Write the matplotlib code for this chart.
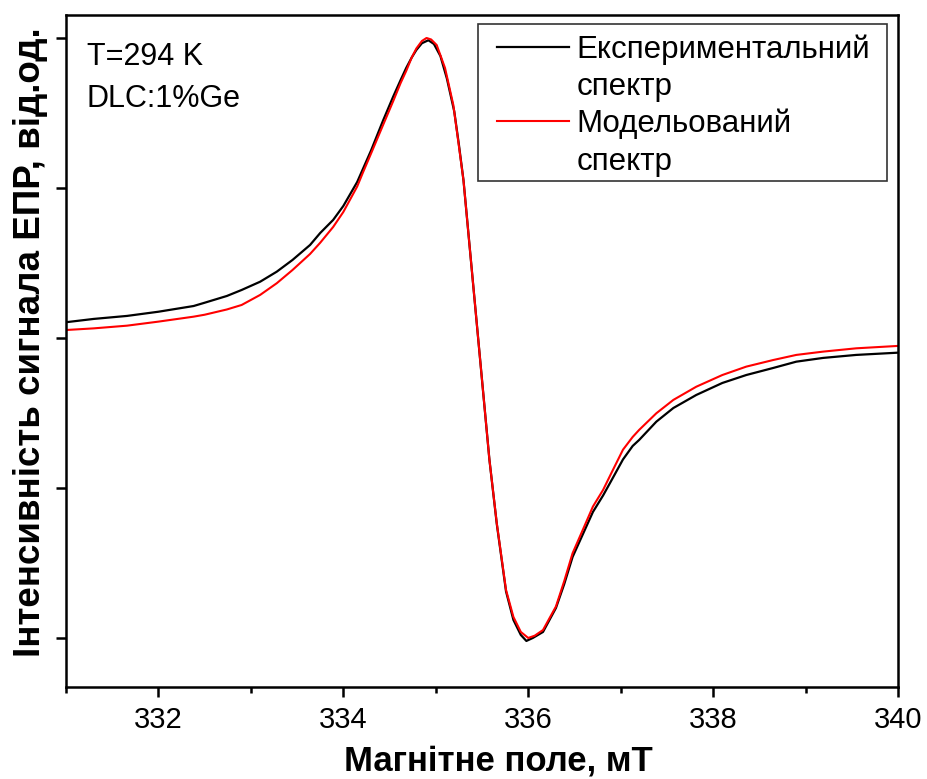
import matplotlib
matplotlib.use('Agg')
import matplotlib.pyplot as plt
from matplotlib.lines import Line2D
from matplotlib.patches import Rectangle

plt.rcParams['font.family'] = ['Liberation Sans', 'DejaVu Sans']

# field, mT and signal (arb. units)
field_exp = [331.0, 331.3, 331.66, 332.0, 332.38, 332.5, 332.74, 332.9, 333.1, 333.28,
             333.45, 333.64, 333.75, 333.89, 334.0, 334.15, 334.3, 334.43, 334.54, 334.62,
             334.68, 334.74, 334.79, 334.85, 334.92, 334.98, 335.05, 335.12, 335.2, 335.25,
             335.3, 335.44, 335.58, 335.66, 335.76, 335.84, 335.92, 335.98, 336.05, 336.16,
             336.3, 336.39, 336.48, 336.59, 336.7, 336.81, 336.9, 337.025, 337.13, 337.2,
             337.386, 337.57, 337.818, 338.1, 338.359, 338.65, 338.9, 339.19, 339.548, 340.0]
signal_exp = [0.105, 0.127, 0.147, 0.175, 0.213, 0.235, 0.28, 0.32, 0.375, 0.442,
              0.52, 0.62, 0.70, 0.787, 0.88, 1.04, 1.25, 1.45, 1.61, 1.72,
              1.80, 1.87, 1.92, 1.965, 1.985, 1.96, 1.88, 1.73, 1.51, 1.29,
              1.05, 0.12, -0.81, -1.24, -1.69, -1.88, -1.98, -2.02, -2.0, -1.96,
              -1.80, -1.64, -1.46, -1.31, -1.16, -1.05, -0.95, -0.81, -0.72, -0.68,
              -0.558, -0.467, -0.38, -0.30, -0.247, -0.20, -0.158, -0.133, -0.113, -0.098]

field_sim = [331.0, 331.3, 331.66, 332.0, 332.38, 332.5, 332.74, 332.9, 333.1, 333.28,
             333.45, 333.64, 333.75, 333.89, 334.0, 334.15, 334.21, 334.3, 334.43, 334.54,
             334.62, 334.68, 334.74, 334.79, 334.85, 334.9, 334.95, 335.01, 335.1, 335.19,
             335.25, 335.3, 335.44, 335.58, 335.66, 335.76, 335.84, 335.92, 336.0, 336.07,
             336.16, 336.3, 336.39, 336.48, 336.59, 336.7, 336.81, 336.9, 337.025, 337.13,
             337.2, 337.386, 337.57, 337.818, 338.1, 338.359, 338.65, 338.9, 339.19, 339.548,
             340.0]
signal_sim = [0.053, 0.064, 0.082, 0.109, 0.142, 0.155, 0.19, 0.22, 0.287, 0.365,
              0.453, 0.56, 0.635, 0.74, 0.84, 1.01, 1.10, 1.23, 1.42, 1.58,
              1.70, 1.78, 1.87, 1.93, 1.98, 2.0, 1.99, 1.953, 1.80, 1.553,
              1.28, 1.05, 0.12, -0.81, -1.235, -1.68, -1.86, -1.96, -2.0, -1.985,
              -1.947, -1.79, -1.62, -1.435, -1.28, -1.124, -1.013, -0.90, -0.745, -0.66,
              -0.613, -0.502, -0.413, -0.325, -0.247, -0.191, -0.147, -0.113, -0.091, -0.069,
              -0.053]

fig = plt.figure(figsize=(9.27, 7.79), dpi=100)
ax = fig.add_axes([0.0712, 0.1181, 0.8975, 0.8626])

ax.plot(field_exp, signal_exp, color='black', lw=1.6)
ax.plot(field_sim, signal_sim, color='#ff0000', lw=1.5)

ax.set_xlim(331, 340)
ax.set_ylim(-2.327, 2.153)
ax.set_xticks([332, 334, 336, 338, 340])
ax.set_xticks([331, 333, 335, 337, 339], minor=True)
ax.set_yticks([-2, -1, 0, 1, 2])
ax.set_yticklabels([])
for s in ax.spines.values():
    s.set_linewidth(1.8)
ax.tick_params(which='major', direction='out', length=7, width=1.8, labelsize=21, pad=7)
ax.tick_params(which='minor', direction='out', length=4, width=1.8)

ax.set_xlabel('Магнітне поле, мТ', fontsize=25, fontweight='bold')
ax.xaxis.set_label_coords(0.52, -0.086)
ax.set_ylabel('Інтенсивність сигнала ЕПР, від.од.', fontsize=26.5, fontweight='bold')
ax.yaxis.set_label_coords(-0.022, 0.513)

ax.text(0.025, 0.926, 'T=294 K', transform=ax.transAxes, fontsize=22)
ax.text(0.025, 0.863, 'DLC:1%Ge', transform=ax.transAxes, fontsize=22)

# each legend label is split into two rows so that the line sits next to the first row
handles = [Line2D([], [], color='black', lw=1.6), Line2D([], [], color='none'),
           Line2D([], [], color='#ff0000', lw=1.5), Line2D([], [], color='none')]
labels = ['Експериментальний', 'спектр', 'Модельований', 'спектр']
ax.legend(handles, labels, loc='upper left', bbox_to_anchor=(0.518, 0.9717),
          fontsize=22.5, frameon=False, borderaxespad=0, borderpad=0,
          handlelength=2.3, handletextpad=0.25, labelspacing=0.23)
# legend box is wider than the text, so draw it separately
ax.add_patch(Rectangle((0.4952, 0.7530), 0.4916, 0.2336, transform=ax.transAxes,
                       fill=False, edgecolor='#333333', lw=1.2, zorder=5))

fig.savefig('out.png', dpi=100)
